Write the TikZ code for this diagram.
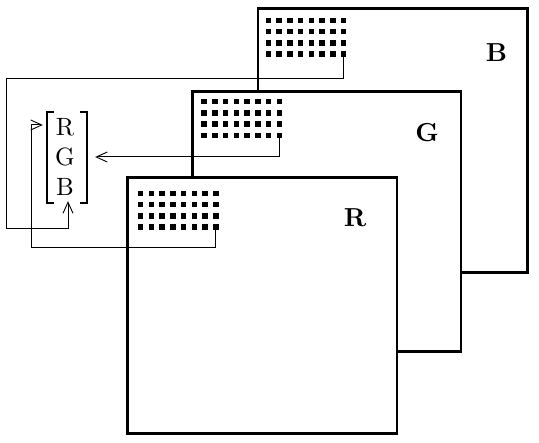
\documentclass[tikz,border=0pt]{standalone}
\usepackage{fontspec}
\setmainfont{lmroman10-regular.otf}[BoldFont=lmroman10-bold.otf]
\usetikzlibrary{arrows.meta}
\begin{document}
\begin{tikzpicture}[x=1pt,y=-1pt,
  frame/.style={line width=2.6pt,fill=white},
  wire/.style={line width=1pt},
  arr/.style={wire,-{Straight Barb[length=11pt,width=10pt,line width=0.9pt]}},
  dotsq/.style={fill=black,minimum size=5.5pt,inner sep=0pt,outer sep=0pt,draw=none},
  lab/.style={font=\fontsize{26}{30}\selectfont\bfseries,inner sep=0pt},
  ent/.style={font=\fontsize{25}{29}\selectfont,inner sep=0pt},
  brk/.style={line width=2pt}]
\useasboundingbox (0,0) rectangle (539,443);
\newcommand\dotgrid[3]{%
  \foreach \i in {0,...,7}{\foreach \j in {0,...,3}{%
    \node[dotsq] (#1-\i-\j) at ({#2+\i*10.75},{#3+\j*11.2}) {};}}}
% B plane
\draw[frame] (258,8.7) rectangle (527.5,272.5);
\node[lab] (lB) at (496.5,53) {B};
\dotgrid{gB}{268.3}{20.5}
% G plane
\draw[frame] (192.5,91.5) rectangle (461,351.5);
\node[lab] (lG) at (427,133) {G};
\dotgrid{gG}{204.2}{101.7}
% R plane
\draw[frame] (127.5,177.5) rectangle (397,433.5);
\node[lab] (lR) at (355,217.5) {R};
\dotgrid{gR}{140.5}{193.5}
% vector
\node[minimum width=40pt,minimum height=91pt,inner sep=0pt] (vec) at (67,157.5) {};
\node[ent] (eR) at (65,127) {R};
\node[ent] (eG) at (65,157) {G};
\node[ent] (eB) at (65,187) {B};
\draw[brk] ([xshift=7pt]vec.north west) -- (vec.north west) -- (vec.south west) -- ([xshift=7pt]vec.south west);
\draw[brk] ([xshift=-7pt]vec.north east) -- (vec.north east) -- (vec.south east) -- ([xshift=-7pt]vec.south east);
% connectors
\coordinate (b1) at (6,79);
\coordinate (b2) at (6,229);
\coordinate (b3) at (68,229);
\draw[arr,shorten >=-2pt] (gB-7-3.south) |- (b1) -- (b2) -- (b3) -- (b3 |- vec.south);
\draw[arr,shorten >=8pt] (gG-7-3.south) |- (vec.east |- eG);
\coordinate (r1) at (31,248);
\draw[arr,shorten >=4pt] (gR-7-3.south) |- (r1) |- (vec.west |- 0,125);
\end{tikzpicture}
\end{document}
